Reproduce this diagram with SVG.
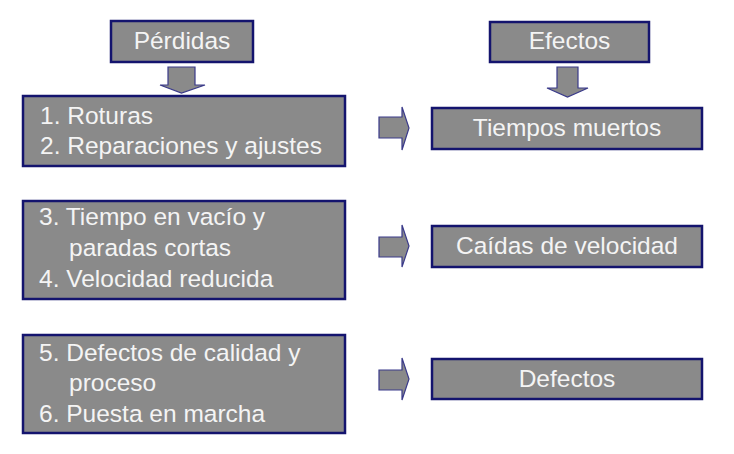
<svg xmlns="http://www.w3.org/2000/svg" width="734" height="454" viewBox="0 0 734 454">
<style>
.box{fill:#8a8a8a;stroke:#14146e;stroke-width:2.5}
.arr{fill:#8a8a8a;stroke:#3a3a8a;stroke-width:1.2;stroke-linejoin:miter}
text{font-family:"Liberation Sans",Arial,sans-serif;font-size:24.5px;fill:#f4f4f4}
.c{text-anchor:middle}
</style>
<rect width="734" height="454" fill="#ffffff"/>
<g id="perdidas"><rect class="box" x="111" y="21" width="142" height="41"/><text class="c" x="182" y="49">Pérdidas</text></g>
<g id="efectos"><rect class="box" x="490" y="22" width="159" height="40"/><text class="c" x="569.5" y="49">Efectos</text></g>
<g id="box1"><rect class="box" x="23" y="96" width="322" height="70"/>
<text x="40" y="124">1. Roturas</text><text x="40" y="154">2. Reparaciones y ajustes</text></g>
<g id="box2"><rect class="box" x="23" y="201" width="322" height="98"/>
<text x="39" y="225">3. Tiempo en vacío y</text><text x="69" y="256">paradas cortas</text><text x="39" y="287">4. Velocidad reducida</text></g>
<g id="box3"><rect class="box" x="23" y="335" width="322" height="98"/>
<text x="39" y="361">5. Defectos de calidad y</text><text x="69" y="391">proceso</text><text x="39" y="422">6. Puesta en marcha</text></g>
<g id="tiempos"><rect class="box" x="432" y="108" width="270" height="41"/><text class="c" x="567" y="136">Tiempos muertos</text></g>
<g id="caidas"><rect class="box" x="432" y="226" width="270" height="41"/><text class="c" x="567" y="254">Caídas de velocidad</text></g>
<g id="defectos"><rect class="box" x="432" y="359" width="270" height="40"/><text class="c" x="567" y="387">Defectos</text></g>
<g id="connectors">
<polygon class="arr" points="168,67 195,67 195,85 205,85 181.5,93 160,85 168,85"/>
<polygon class="arr" points="557,67 578,67 578,88 588,88 567.5,97 547,88 557,88"/>
<polygon class="arr" points="379,117 402,117 402,107 409,128 402,150 402,138 379,138"/>
<polygon class="arr" points="379,237 402,237 402,225 409,246 402,267 402,257 379,257"/>
<polygon class="arr" points="379,370 402,370 402,358 409,379 402,400 402,390 379,390"/>
</g>
</svg>
